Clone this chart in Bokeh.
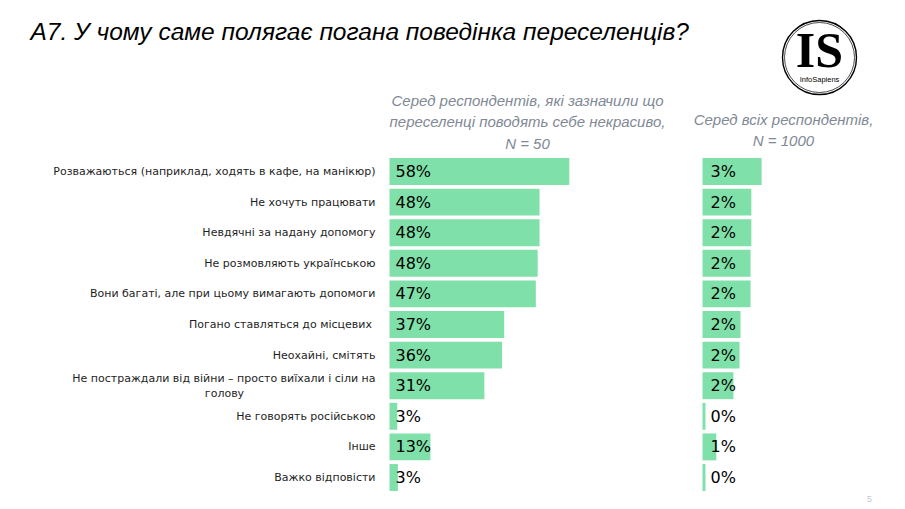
import numpy as np
from bokeh.plotting import figure
from bokeh.models import Range1d, Label, BoxAnnotation, ColumnDataSource
from bokeh.core.properties import value
from bokeh.embed import file_html
from bokeh.resources import INLINE

# ---------------- data ----------------
categories = [
    "Розважаються (наприклад, ходять в кафе, на манікюр)",
    "Не хочуть працювати",
    "Невдячні за надану допомогу",
    "Не розмовляють українською",
    "Вони багаті, але при цьому вимагають допомоги",
    "Погано  ставляться до місцевих",
    "Неохайні, смітять",
    "Не постраждали від війни – просто виїхали і сіли на\nголову",
    "Не говорять російською",
    "Інше",
    "Важко відповісти",
]
share_bad_behaviour = [58.0, 48.4, 48.4, 47.8, 47.2, 37.0, 36.3, 30.6, 2.5, 13.2, 2.7]
labels_bad_behaviour = ["58%", "48%", "48%", "48%", "47%", "37%", "36%", "31%", "3%", "13%", "3%"]
share_all = [3.0, 2.48, 2.48, 2.44, 2.44, 1.93, 1.88, 1.57, 0.15, 0.7, 0.15]
labels_all = ["3%", "2%", "2%", "2%", "2%", "2%", "2%", "2%", "0%", "1%", "0%"]

title_text = "A7. У чому саме полягає погана поведінка переселенців?"
subtitle_left = ["Серед респондентів, які зазначили що",
                 "переселенці поводять себе некрасиво,",
                 "N = 50"]
subtitle_right = ["Серед всіх респондентів,", "N = 1000"]

# ---------------- layout ----------------
W, H = 905, 509
GREEN = "#80E0A9"
GREY = "#7F8995"
LABEL_FONT = "DejaVu Sans"
ITALIC_FONT = "Liberation Sans"

# pixel geometry of the two panels
left_origin_px, left_px_per_pct = 389.0, 3.1
right_origin_px, right_px_per_pct = 702.0, 19.7
row0_px, row_step_px = 171.0, 30.6

x_left = Range1d(-left_origin_px / left_px_per_pct, (W - left_origin_px) / left_px_per_pct)
x_right = Range1d(-right_origin_px / right_px_per_pct, (W - right_origin_px) / right_px_per_pct)
y_rng = Range1d((H - row0_px) / row_step_px, -row0_px / row_step_px)

p = figure(width=W, height=H, output_backend="svg", toolbar_location=None,
           x_range=x_left, y_range=y_rng, min_border=0,
           x_axis_location=None, y_axis_location=None,
           outline_line_color=None, background_fill_color="white",
           border_fill_color="white")
p.extra_x_ranges = {"all": x_right}
p.grid.visible = False

n = len(categories)
rows = list(range(n))
src = ColumnDataSource(dict(
    y=rows,
    bad=share_bad_behaviour, bad_lab=labels_bad_behaviour,
    all=share_all, all_lab=labels_all,
))

p.hbar(y="y", left=0, right="bad", height=0.88, source=src,
       fill_color=GREEN, line_color=None)
p.hbar(y="y", left=0, right="all", height=0.88, source=src,
       fill_color=GREEN, line_color=None, x_range_name="all")

val_kw = dict(text_baseline="middle", text_align="left",
              text_font=value(LABEL_FONT), text_font_size="16px",
              text_color="black", x_offset=6)
p.text(x=0, y="y", text="bad_lab", source=src, **val_kw)
val_kw["x_offset"] = 8
p.text(x=0, y="y", text="all_lab", source=src, x_range_name="all", **val_kw)

# category labels (first lines right-aligned; second lines centred below)
first_y, first_t, first_off = [], [], []
second_y, second_t = [], []
for i, c in enumerate(categories):
    lines = c.split("\n")
    first_y.append(rows[i])
    first_t.append(lines[0])
    first_off.append(-7.5 if len(lines) > 1 else 0.0)
    if len(lines) > 1:
        second_y.append(rows[i])
        second_t.append(lines[1])

cat_kw = dict(text_baseline="middle", text_font=value(LABEL_FONT),
              text_font_size="11px", text_color="#1E1E1E")
p.text(x=0, y="y", text="t",
       source=ColumnDataSource(dict(y=first_y, t=first_t, off=first_off)),
       x_offset=-14, y_offset="off", text_align="right", **cat_kw)
p.text(x=0, y="y", text="t",
       source=ColumnDataSource(dict(y=second_y, t=second_t)),
       x_offset=-165, y_offset=7.5, text_align="center", **cat_kw)

# ---------------- annotations ----------------
def sy(page_y):
    """page y (from top) -> screen y from bottom of the frame"""
    return H - page_y

p.add_layout(Label(x=30, y=sy(31), x_units="screen", y_units="screen",
                   text=title_text, text_font=ITALIC_FONT,
                   text_font_style="italic", text_font_size="24.5px",
                   text_color="black", text_baseline="middle"))

for txt, py in zip(subtitle_left, [100, 121, 143]):
    p.add_layout(Label(x=527, y=sy(py), x_units="screen", y_units="screen",
                       text=txt, text_font=ITALIC_FONT,
                       text_font_style="italic", text_font_size="15px",
                       text_color=GREY, text_align="center", text_baseline="middle"))
for txt, py in zip(subtitle_right, [119, 140]):
    p.add_layout(Label(x=783, y=sy(py), x_units="screen", y_units="screen",
                       text=txt, text_font=ITALIC_FONT,
                       text_font_style="italic", text_font_size="15px",
                       text_color=GREY, text_align="center", text_baseline="middle"))

# logo
cx, cy = 819, sy(57)
for r, lw in [(37, 1.4), (35, 0.7)]:
    p.add_layout(BoxAnnotation(left=cx - r, right=cx + r, bottom=cy - r, top=cy + r,
                               left_units="screen", right_units="screen",
                               bottom_units="screen", top_units="screen",
                               border_radius=r, fill_alpha=0, fill_color=None,
                               line_color="black", line_width=lw, line_alpha=1))
p.add_layout(Label(x=cx, y=sy(49), x_units="screen", y_units="screen", text="IS",
                   text_font="Liberation Serif", text_font_style="bold",
                   text_font_size="50px", text_color="black",
                   text_align="center", text_baseline="middle"))
p.add_layout(Label(x=cx, y=sy(79), x_units="screen", y_units="screen", text="InfoSapiens",
                   text_font="Liberation Sans", text_font_size="7.5px", text_color="black",
                   text_align="center", text_baseline="middle"))

# page number
p.add_layout(Label(x=869, y=sy(498), x_units="screen", y_units="screen", text="5",
                   text_font="Liberation Sans", text_font_size="9px", text_color="#C0C8D4",
                   text_align="center", text_baseline="middle"))

open("out.html", "w").write(file_html(p, INLINE))
